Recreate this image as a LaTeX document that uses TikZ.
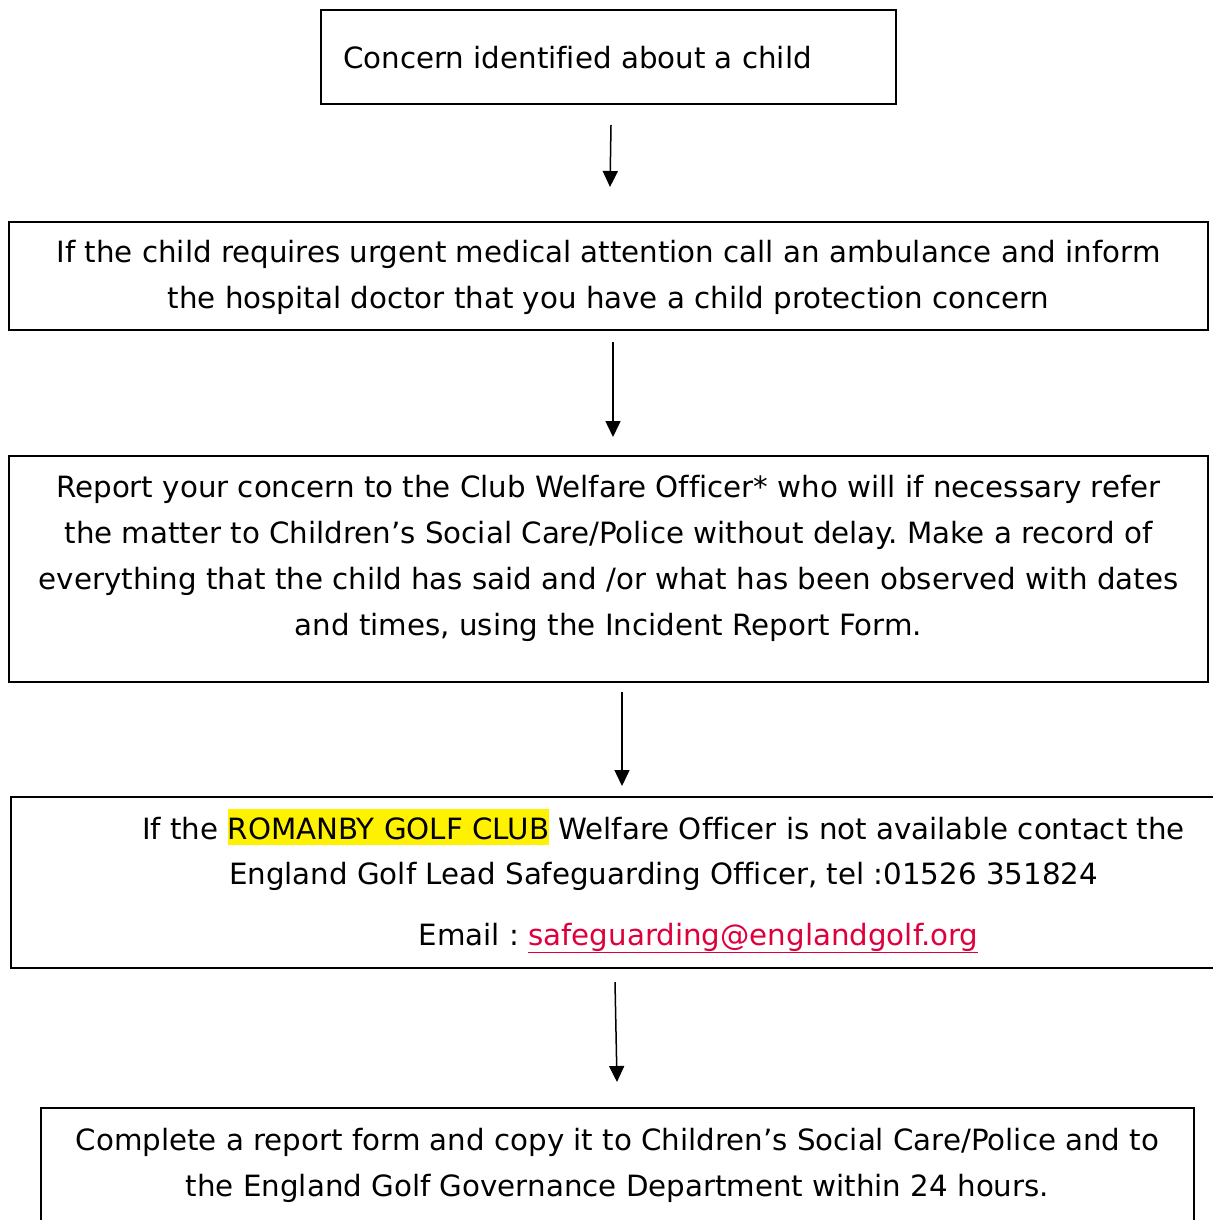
\documentclass[tikz,border=0pt]{standalone}
\usepackage{fontspec}
\setmainfont{DejaVu Sans}[Ligatures=CommonOff]
\usepackage{xcolor}
\usetikzlibrary{arrows.meta}
\frenchspacing

\definecolor{linkred}{RGB}{222,0,60}
\newcommand{\hilite}[1]{{\setlength{\fboxsep}{0pt}\colorbox{yellow}{\rule[-6pt]{0pt}{36pt}#1}}}

\tikzset{
  box/.style={draw, line width=2pt, inner sep=0pt},
  txt/.style={align=center, inner sep=0pt, font=\fontsize{29.3}{46}\selectfont},
  flow/.style={-{Triangle[length=16pt,width=15pt]}, line width=1.5pt},
}

\begin{document}
\begin{tikzpicture}[x=1pt,y=-1pt]
\useasboundingbox (0,0) rectangle (1212,1220);

% boxes
\node[box, minimum width=575pt, minimum height=94pt] (concern) at (608.5,57) {};
\node[box, minimum width=1199pt, minimum height=108pt] (medical) at (608.5,276) {};
\node[box, minimum width=1199pt, minimum height=226pt] (report) at (608.5,569) {};
\node[box, minimum width=1214pt, minimum height=171pt] (officer) at (618,882.5) {};
\node[box, minimum width=1153pt, minimum height=132pt] (complete) at (617.5,1174) {};

% texts
\node[txt, anchor=west] (concerntxt) at (343,58) {Concern identified about a child};
\node[txt] (medicaltxt) at (608.5,277) {If the child requires urgent medical attention call an ambulance and inform\\
the hospital doctor that you have a child protection concern};
\node[txt] (reporttxt) at (608.5,558) {Report your concern to the Club Welfare Officer* who will if necessary refer\\
the matter to Children’s Social Care/Police without delay. Make a record of\\
everything that the child has said and /or what has been observed with dates\\
and times, using the Incident Report Form.};
\node[txt] (officertxt) at (663.5,827) {If the \hilite{ROMANBY GOLF CLUB} Welfare Officer is not available contact the};
\node[txt] (leadtxt) at (663.5,876) {England Golf Lead Safeguarding Officer, tel :01526 351824};
\node[txt] (emailtxt) at (698.5,938) {Email : \textcolor{linkred}{\underline{safeguarding@englandgolf.org}}};
\node[txt] (completetxt) at (617.5,1165) {Complete a report form and copy it to Children’s Social Care/Police and to\\
the England Golf Governance Department within 24 hours.};

% arrows
\coordinate (a1s) at (611,125);  \coordinate (a1e) at (610,187);
\coordinate (a2s) at (613,342);  \coordinate (a2e) at (613,437);
\coordinate (a3s) at (622,692);  \coordinate (a3e) at (622,786);
\coordinate (a4s) at (615,982);  \coordinate (a4e) at (617,1082);
\draw[flow] (a1s) -- (a1e);
\draw[flow] (a2s) -- (a2e);
\draw[flow] (a3s) -- (a3e);
\draw[flow] (a4s) -- (a4e);
\end{tikzpicture}
\end{document}
